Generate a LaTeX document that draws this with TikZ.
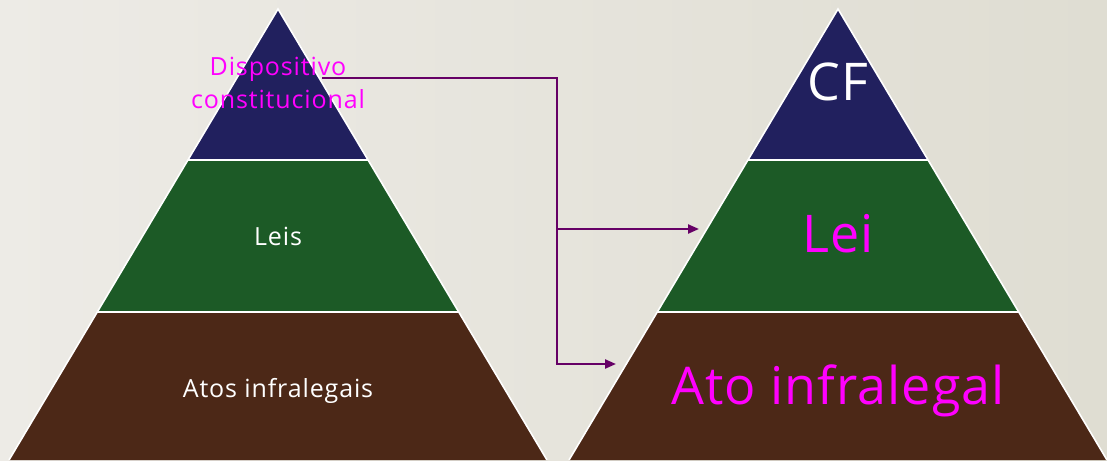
\documentclass[tikz,border=0pt]{standalone}
\usepackage{fontspec}
\setmainfont[Ligatures=NoCommon]{Open Sans}
\usetikzlibrary{arrows.meta}
\definecolor{bgA}{HTML}{EDEBE6}
\definecolor{bgB}{HTML}{DFDDD2}
\definecolor{navy}{HTML}{21205E}
\definecolor{leaf}{HTML}{1C5A26}
\definecolor{soil}{HTML}{4C2817}
\definecolor{wire}{HTML}{660066}
\definecolor{pink}{HTML}{FF00FF}
\tikzset{
  small/.style={font=\fontsize{25}{30}\selectfont\addfontfeatures{LetterSpace=3.5}, anchor=base, inner sep=0pt},
  big/.style={font=\fontsize{52}{60}\selectfont\addfontfeatures{LetterSpace=2}, anchor=base, inner sep=0pt},
  sep/.style={draw=white, line width=1.6pt},
  link/.style={draw=wire, line width=2.2pt, -{Triangle[length=11pt,width=9pt]}},
  plain/.style={draw=wire, line width=2.2pt}
}
\begin{document}
\begin{tikzpicture}[x=1pt,y=-1pt]
\useasboundingbox (0,0) rectangle (1107,460);
\shade[left color=bgA, right color=bgB] (0,0) rectangle (1107,460);
% left pyramid
\begin{scope}
  \clip (278,9) -- (9,460) -- (547,460) -- cycle;
  \fill[navy] (0,0) rectangle (560,160);
  \fill[leaf] (0,160) rectangle (560,312);
  \fill[soil] (0,312) rectangle (560,470);
  \draw[sep] (0,160) -- (560,160);
  \draw[sep] (0,312) -- (560,312);
\end{scope}
\draw[sep] (9,460) -- (278,9) -- (547,460);
% right pyramid
\begin{scope}
  \clip (838,9) -- (569,460) -- (1107,460) -- cycle;
  \fill[navy] (560,0) rectangle (1107,160);
  \fill[leaf] (560,160) rectangle (1107,312);
  \fill[soil] (560,312) rectangle (1107,470);
  \draw[sep] (560,160) -- (1107,160);
  \draw[sep] (560,312) -- (1107,312);
\end{scope}
\draw[sep] (569,460) -- (838,9) -- (1107,460);
% connectors
\coordinate (src) at (322,78);
\coordinate (corner) at (557,78);
\coordinate (j1) at (557,229);
\coordinate (j2) at (557,364);
\coordinate (t1) at (699,229);
\coordinate (t2) at (616,364);
\draw[plain] (src) -- (corner) -- (j2);
\draw[link] (j1) -- (t1);
\draw[link] ([xshift=-1.1pt]j2) -- (t2);
% left labels
\node[small, text=pink] (disp) at (278,75) {Dispositivo};
\node[small, text=pink] (const) at (278,108) {constitucional};
\node[small, text=white] (leis) at (278,245) {Leis};
\node[small, text=white] (atos) at (278,397) {Atos infralegais};
% right labels
\node[big, text=white] (cf) at (838,100) {CF};
\node[big, text=pink] (lei) at (838,252) {Lei};
\node[big, text=pink] (ato) at (838,404) {Ato infralegal};
\end{tikzpicture}
\end{document}
